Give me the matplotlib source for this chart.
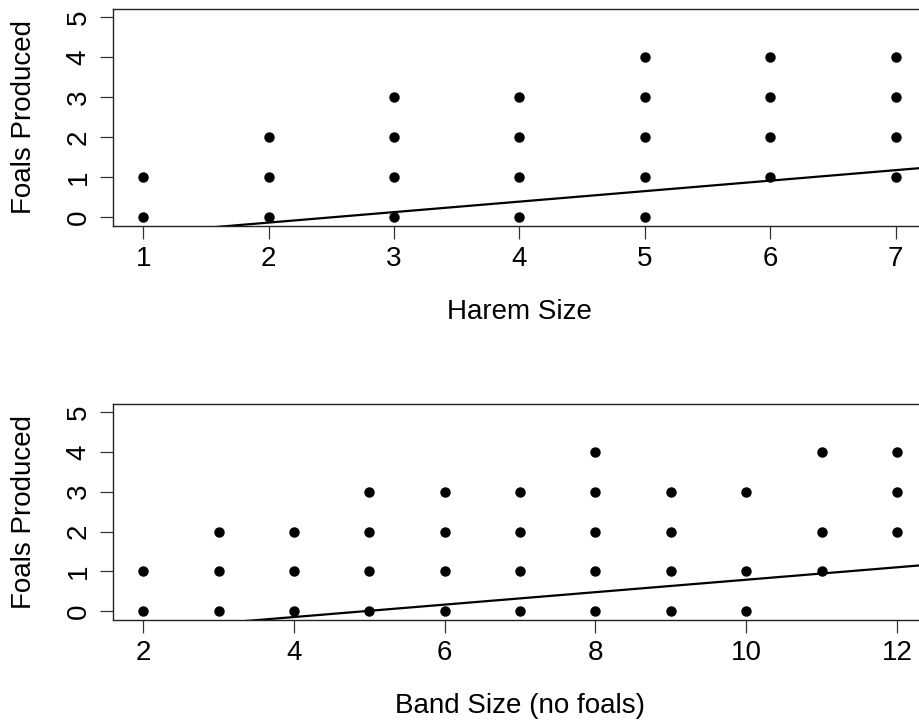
import matplotlib
matplotlib.use('AGG')
import matplotlib.pyplot as plt
import numpy as np

plt.rcParams['font.family'] = ['Liberation Sans', 'DejaVu Sans']

# harem size vs foals (unique plotted points)
harem_x = [1, 1, 2, 2, 2, 3, 3, 3, 3, 4, 4, 4, 4, 5, 5, 5, 5, 5, 6, 6, 6, 6, 7, 7, 7, 7]
harem_y = [0, 1, 0, 1, 2, 0, 1, 2, 3, 0, 1, 2, 3, 0, 1, 2, 3, 4, 1, 2, 3, 4, 1, 2, 3, 4]
harem_fit = (-0.66, 0.262)  # intercept, slope

# band size vs foals
band_x = [2, 2, 3, 3, 3, 4, 4, 4, 5, 5, 5, 5, 6, 6, 6, 6, 7, 7, 7, 7,
          8, 8, 8, 8, 8, 9, 9, 9, 9, 10, 10, 10, 11, 11, 11, 12, 12, 12]
band_y = [0, 1, 0, 1, 2, 0, 1, 2, 0, 1, 2, 3, 0, 1, 2, 3, 0, 1, 2, 3,
          0, 1, 2, 3, 4, 0, 1, 2, 3, 0, 1, 3, 1, 2, 4, 2, 3, 4]
band_fit = (-0.77, 0.156)

harem_ticks = [1, 2, 3, 4, 5, 6, 7]
band_ticks = [2, 4, 6, 8, 10, 12]
foal_ticks = [0, 1, 2, 3, 4, 5]

FS = 20


def panel(ax, x, y, fit, xticks, xlim, xlabel, label_y):
    ax.plot(x, y, 'o', color='black', markersize=6.5, clip_on=False, zorder=3)
    xs = np.array(xlim)
    ax.plot(xs, fit[0] + fit[1] * xs, color='black', linewidth=1.6)
    ax.set_xlim(xlim)
    ax.set_ylim(-0.22, 5.2)
    ax.set_xticks(xticks)
    ax.set_yticks(foal_ticks)
    ax.tick_params(length=9.5, width=0.9, color='#333333', labelsize=FS)
    ax.tick_params(axis='x', pad=5)
    ax.tick_params(axis='y', pad=6)
    for lab in ax.get_yticklabels():
        lab.set_rotation(90)
        lab.set_va('center')
    for s in ax.spines.values():
        s.set_linewidth(1.0)
        s.set_color('#222222')
    ax.set_xlabel(xlabel, fontsize=FS)
    ax.xaxis.set_label_coords(0.5, label_y)
    ax.xaxis.label.set_va('center')
    ax.set_ylabel('Foals Produced', fontsize=FS)
    ax.yaxis.set_label_coords(-0.109, 0.5)
    ax.yaxis.label.set_va('center')


fig = plt.figure(figsize=(9.19, 7.21), dpi=100)
ax1 = fig.add_axes([0.123, 0.6866, 0.8845, 0.3010])
panel(ax1, harem_x, harem_y, harem_fit, harem_ticks, (0.76, 7.24), 'Harem Size', -0.395)
ax2 = fig.add_axes([0.123, 0.1401, 0.8858, 0.2996])
panel(ax2, band_x, band_y, band_fit, band_ticks, (1.6, 12.4), 'Band Size (no foals)', -0.40)

plt.savefig('out.png', dpi=100)
